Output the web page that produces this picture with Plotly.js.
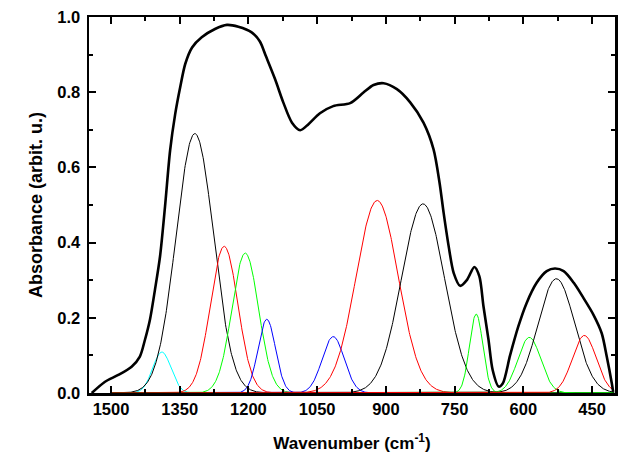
<!DOCTYPE html>
<html>
<head>
<meta charset="utf-8">
<script src="https://cdn.plot.ly/plotly-3.0.1.min.js"></script>
<style>html,body{margin:0;padding:0;background:#fff;}#chart{width:623px;height:459px;}</style>
</head>
<body>
<div id="chart"></div>
<script>
// Measured envelope spectrum (wavenumber, absorbance)
const envWn = [1542,1513,1484,1455,1437,1426,1415,1404,1393,1382,1371,1360,1349,1338,1323,1302,1273,1247,1222,1193,1175,1162,1142,1124,1105,1087,1069,1044,1015,978,949,927,905,876,847,818,796,783,774,763,752,738,723,707,696,687,676,667,654,645,629,611,593,571,549,531,512,490,469,447,429,418,407,404];
const envAbs = [0.0,0.030,0.048,0.070,0.097,0.141,0.195,0.275,0.363,0.497,0.645,0.741,0.813,0.875,0.919,0.946,0.968,0.979,0.974,0.959,0.935,0.896,0.835,0.773,0.719,0.699,0.715,0.744,0.763,0.771,0.799,0.819,0.824,0.808,0.773,0.719,0.648,0.560,0.479,0.390,0.319,0.285,0.301,0.335,0.310,0.230,0.141,0.061,0.017,0.025,0.100,0.177,0.239,0.293,0.324,0.331,0.324,0.293,0.253,0.208,0.159,0.097,0.026,0.003];

// Fitted band components: centre (cm-1), height, width (sigma, cm-1), colour
const bandCentre = [1389,1317,1253,1207,1160,1015,919,819,703,587,528,467];
const bandHeight = [0.109,0.690,0.390,0.372,0.196,0.150,0.512,0.503,0.210,0.148,0.304,0.153];
const bandSigma  = [20,41,30,29,19,24,46,47,14.5,25,40,26];
const bandColor  = ['#00ffff','#000000','#ff0000','#00ff00','#0000ff','#0000ff','#ff0000','#000000','#00ff00','#00ff00','#000000','#ff0000'];
const bandStart = 1500, bandEnd = 402;

const xTickVals = [1500,1350,1200,1050,900,750,600,450];
const yTickVals = [0.0,0.2,0.4,0.6,0.8,1.0];

const traces = [];
const grid = [];
for (let w = bandStart; w >= bandEnd; w -= 1) grid.push(w);
bandCentre.forEach((c, i) => {
  traces.push({
    x: grid,
    y: grid.map(w => bandHeight[i] * Math.exp(-Math.pow(w - c, 2) / (2 * bandSigma[i] * bandSigma[i]))),
    mode: 'lines', line: {color: bandColor[i], width: 1}, hoverinfo: 'skip', showlegend: false
  });
});
traces.push({x: envWn, y: envAbs, mode: 'lines', line: {color: '#000', width: 2.6, shape: 'spline', smoothing: 0.8}, showlegend: false});

const fam = 'Liberation Sans, Arial, Helvetica, sans-serif';
const tickFont = {family: fam, size: 16.5, color: '#000', weight: 'bold'};
const layout = {
  width: 623, height: 459,
  margin: {l: 89, r: 8, t: 17, b: 66},
  paper_bgcolor: '#fff', plot_bgcolor: '#fff',
  showlegend: false,
  xaxis: {
    range: [1548, 400], autorange: false,
    tickvals: xTickVals, ticktext: xTickVals.map(String),
    ticks: 'inside', ticklen: 7, tickwidth: 2, tickcolor: '#000',
    minor: {dtick: 75, tick0: 0, ticks: 'inside', ticklen: 4, tickwidth: 2, tickcolor: '#000'},
    showline: true, linewidth: 2.5, linecolor: '#000', mirror: 'allticks',
    showgrid: false, zeroline: false,
    tickfont: tickFont,
    title: {text: 'Wavenumber (cm<sup>-1</sup>)', font: {family: fam, size: 17, color: '#000', weight: 'bold'}, standoff: 20}
  },
  yaxis: {
    range: [0, 1.0], autorange: false,
    tickvals: yTickVals, ticktext: yTickVals.map(v => v.toFixed(1)),
    ticks: 'inside', ticklen: 7, tickwidth: 2, tickcolor: '#000',
    ticklabelstandoff: 3,
    minor: {dtick: 0.1, tick0: 0, ticks: 'inside', ticklen: 4, tickwidth: 2, tickcolor: '#000'},
    showline: true, linewidth: 2.5, linecolor: '#000', mirror: 'allticks',
    showgrid: false, zeroline: false,
    tickfont: tickFont,
    title: {text: 'Absorbance (arbit. u.)', font: {family: fam, size: 18, color: '#000', weight: 'bold'}, standoff: 10}
  }
};
Plotly.newPlot('chart', traces, layout, {displayModeBar: false, staticPlot: true});
</script>
</body>
</html>
